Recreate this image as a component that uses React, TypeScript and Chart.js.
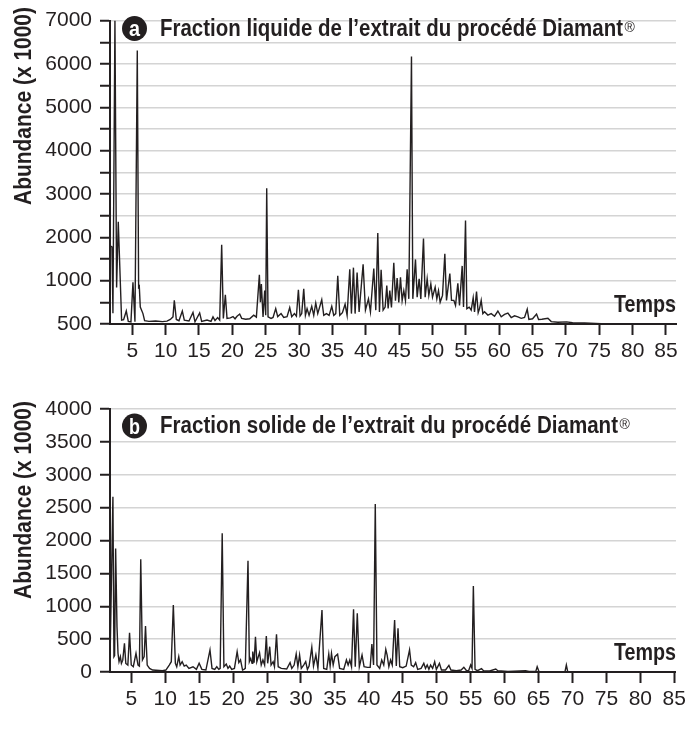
import React, { useEffect, useRef } from "react";
import { Chart, registerables } from "chart.js";

Chart.register(...registerables);

// ---------- Data: chart a (Fraction liquide) ----------
const timeA = [
  1.7, 1.95, 2.1, 2.4, 2.65, 2.9, 3.4, 3.7, 4.1, 4.4, 4.8, 5.1, 5.4, 5.75, 5.95, 6.05, 6.2, 6.6, 6.85,
  7.5, 8.5, 9.5, 10.2, 10.7, 11.1, 11.3, 11.6, 12.0, 12.5, 12.8, 13.5, 14.1, 14.4, 15.1, 15.4, 16.2,
  16.8, 17.1, 17.4, 17.8, 18.1, 18.4, 18.65, 18.95, 19.2, 19.7, 20.1, 20.4, 20.7, 21.1, 21.4, 22.0,
  22.6, 23.2, 23.6, 24.05, 24.2, 24.35, 24.6, 24.85, 25.0, 25.15, 25.35, 25.8, 26.1, 26.5, 26.8, 27.3,
  27.7, 28.2, 28.6, 28.9, 29.3, 29.6, 29.9, 30.15, 30.4, 30.7, 30.95, 31.2, 31.5, 31.9, 32.2, 32.5,
  32.8, 33.4, 33.7, 34.1, 34.5, 34.9, 35.2, 35.5, 35.8, 36.1, 36.5, 36.9, 37.2, 37.6, 37.85, 38.15,
  38.4, 38.7, 39.0, 39.6, 39.95, 40.4, 40.7, 41.2, 41.5, 41.8, 42.05, 42.3, 42.6, 42.9, 43.15, 43.35,
  43.6, 43.85, 44.2, 44.45, 44.7, 44.95, 45.2, 45.45, 45.7, 45.95, 46.2, 46.45, 46.85, 47.05, 47.45,
  47.7, 48.0, 48.25, 48.65, 48.9, 49.2, 49.45, 49.75, 50.0, 50.4, 50.65, 50.9, 51.15, 51.5, 51.85,
  52.1, 52.6, 52.85, 53.2, 53.45, 53.8, 54.05, 54.45, 54.65, 54.95, 55.15, 55.5, 55.8, 56.1, 56.3,
  56.6, 56.85, 57.05, 57.3, 57.55, 57.8, 58.3, 58.8, 59.3, 59.8, 60.3, 60.8, 61.3, 61.8, 62.3, 62.8,
  63.3, 63.8, 64.2, 64.45, 65.0, 65.6, 65.9, 66.4, 67.3, 67.8, 68.8, 70.1, 71.0, 72.8, 75.3, 77.8, 86.5,
];
const abundA = [
  1800, 1780, 250, 7000, 840, 2360, 90, 100, 300, 60, 50, 960, 50, 6310, 850, 870, 390, 240, 75,
  60, 70, 55, 65, 105, 165, 545, 105, 75, 300, 90, 70, 265, 50, 255, 60, 90,
  60, 165, 80, 150, 90, 1830, 130, 675, 130, 140, 170, 120, 180, 230, 130, 110,
  120, 205, 160, 1135, 500, 920, 165, 770, 200, 3130, 165, 130, 150, 355, 170, 240,
  150, 170, 380, 170, 240, 180, 790, 185, 240, 810, 200, 355, 200, 410, 200, 485,
  240, 560, 200, 240, 200, 410, 200, 240, 1110, 200, 260, 455, 200, 1265, 240, 1300,
  240, 1190, 280, 1380, 320, 580, 280, 1280, 320, 2100, 280, 1250, 320, 390, 885, 360,
  770, 380, 1415, 540, 1060, 500, 1075, 540, 770, 540, 1265, 580, 6170, 580, 1490,
  620, 1040, 580, 1970, 620, 1040, 660, 925, 620, 850, 580, 770, 500, 660, 1620,
  545, 1165, 545, 545, 430, 940, 430, 1340, 390, 2385, 355, 390, 320, 605, 280,
  750, 260, 355, 545, 240, 280, 205, 240, 180, 300, 165, 220, 250, 150, 190, 165,
  130, 150, 340, 105, 120, 230, 105, 110, 130, 55, 40, 50, 30, 25, 8, 0, 0,
];

// ---------- Data: chart b (Fraction solide) ----------
const timeB = [
  1.9, 2.3, 2.45, 2.55, 2.7, 2.9, 3.05, 3.2, 3.4, 3.55, 3.75, 4.0, 4.2, 4.5, 4.75, 5.0, 5.3, 5.7, 6.0,
  6.2, 6.4, 6.65, 6.9, 7.1, 7.35, 7.7, 8.15, 9.6, 10.1, 10.6, 10.9, 11.2, 11.5, 11.7, 12.0, 12.2, 12.5,
  12.8, 13.1, 13.5, 14.1, 14.6, 15.0, 15.4, 16.0, 16.6, 16.9, 17.3, 17.6, 17.9, 18.1, 18.4, 18.65,
  19.0, 19.25, 19.5, 19.8, 20.2, 20.6, 20.85, 21.1, 21.4, 21.6, 21.8, 22.2, 22.4, 22.6, 22.8, 22.9,
  23.1, 23.3, 23.5, 23.9, 24.15, 24.4, 24.65, 24.9, 25.1, 25.4, 25.6, 25.9, 26.1, 26.4, 26.65, 27.1,
  27.9, 28.4, 28.65, 29.0, 29.3, 29.55, 29.8, 30.05, 30.4, 30.7, 30.95, 31.2, 31.6, 31.85, 32.2, 32.5,
  33.1, 33.35, 33.8, 34.1, 34.3, 34.5, 34.75, 35.0, 35.4, 35.7, 36.3, 36.7, 36.95, 37.2, 37.45, 37.75,
  38.0, 38.3, 38.6, 39.0, 39.3, 39.8, 40.2, 40.45, 40.7, 40.95, 41.2, 41.6, 41.9, 42.2, 42.5, 42.7,
  42.95, 43.2, 43.45, 43.8, 44.05, 44.3, 44.55, 45.0, 45.5, 46.0, 46.25, 46.6, 46.9, 47.2, 47.7, 48.1,
  48.35, 48.6, 48.85, 49.1, 49.4, 49.7, 49.95, 50.4, 50.7, 51.3, 51.8, 52.1, 52.9, 53.6, 54.0, 54.4,
  54.7, 55.0, 55.2, 55.4, 55.65, 56.0, 56.6, 56.9, 57.8, 58.7, 59.0, 60.5, 63.1, 63.6, 64.6, 64.8,
  65.05, 67.0, 68.9, 69.1, 69.3, 72.0, 85.25,
];
const abundB = [
  330, 2665, 233, 250, 1880, 690, 285, 157, 233, 130, 180, 436, 130, 106, 598, 106, 80, 284, 106,
  90, 1714, 183, 233, 700, 106, 55, 30, 20, 30, 106, 157, 1020, 130, 80, 233, 106, 157,
  90, 106, 55, 80, 40, 132, 40, 30, 335, 55, 40, 80, 40, 55, 2110, 80,
  122, 55, 90, 40, 55, 310, 142, 183, 30, 40, 55, 1693, 157, 208, 132, 310,
  142, 537, 157, 294, 106, 183, 106, 547, 132, 385, 106, 157, 80, 573, 80, 55,
  45, 142, 55, 106, 274, 80, 259, 55, 106, 157, 40, 90, 375, 90, 259, 55,
  943, 55, 40, 274, 90, 284, 106, 233, 270, 55, 40, 183, 106, 183, 80, 953,
  80, 892, 80, 259, 80, 70, 70, 426, 106, 2555, 106, 55, 183, 106, 345, 258,
  80, 183, 106, 790, 90, 664, 80, 65, 90, 335, 106, 80, 142, 40, 55, 132,
  55, 106, 40, 106, 55, 157, 40, 132, 30, 30, 101, 30, 20, 30, 71, 20,
  20, 106, 55, 1308, 40, 20, 50, 20, 15, 45, 20, 10, 20, 10, 10, 81,
  10, 5, 5, 106, 5, 0, 0,
];

// ---------- Ticks ----------
const xTicks = [5, 10, 15, 20, 25, 30, 35, 40, 45, 50, 55, 60, 65, 70, 75, 80, 85];
const xTickLabels = ["5", "10", "15", "20", "25", "30", "35", "40", "45", "50", "55", "60", "65", "70", "75", "80", "85"];
const yTicksA = [0, 500, 1000, 1500, 2000, 2500, 3000, 3500, 4000, 4500, 5000, 5500, 6000, 6500, 7000];
const yTickLabelsA = ["500", "", "1000", "", "2000", "", "3000", "", "4000", "", "5000", "", "6000", "", "7000"];
const yTicksB = [0, 500, 1000, 1500, 2000, 2500, 3000, 3500, 4000];
const yTickLabelsB = ["0", "500", "1000", "1500", "2000", "2500", "3000", "3500", "4000"];

const titleA = "Fraction liquide de l’extrait du procédé Diamant";
const titleB = "Fraction solide de l’extrait du procédé Diamant";
const yTitle = "Abundance (x 1000)";
const xTitle = "Temps";

const FONT = '"Liberation Sans", Arial, sans-serif';
const INK = "#231f20";

type PanelSpec = {
  height: number;
  times: number[];
  values: number[];
  xMin: number;
  xMax: number;
  yTicks: number[];
  yLabels: string[];
  padTop: number;
  padRight: number;
  xAxisHeight: number;
  letter: string;
  title: string;
  titleWidth: number;
  badgeY: number;
  titleBase: number;
  yTitleY: number;
  tempsBase: number;
};

// draw condensed bold text fitted to a given width
function fitText(ctx: CanvasRenderingContext2D, text: string, x: number, y: number, width: number, align: "left" | "right" | "center") {
  const w = ctx.measureText(text).width;
  const s = width / w;
  ctx.save();
  ctx.translate(x, y);
  ctx.scale(s, 1);
  ctx.textAlign = align;
  ctx.fillText(text, 0, 0);
  ctx.restore();
}

function overlayPlugin(p: PanelSpec) {
  return {
    id: "overlay" + p.letter,
    afterDraw(chart: any) {
      const ctx = chart.ctx as CanvasRenderingContext2D;
      ctx.save();
      // badge
      ctx.fillStyle = INK;
      ctx.beginPath();
      ctx.arc(134.5, p.badgeY, 12.5, 0, Math.PI * 2);
      ctx.fill();
      ctx.fillStyle = "#ffffff";
      ctx.font = `bold 22px ${FONT}`;
      ctx.textBaseline = "alphabetic";
      fitText(ctx, p.letter, 134.5, p.badgeY + 7.5, 11, "center");
      // title
      ctx.fillStyle = INK;
      ctx.font = `bold 23px ${FONT}`;
      fitText(ctx, p.title, 160, p.titleBase, p.titleWidth, "left");
      ctx.font = `14px ${FONT}`;
      ctx.textAlign = "left";
      ctx.fillText("®", 160 + p.titleWidth + 1.5, p.titleBase - 4);
      // Temps
      ctx.font = `bold 23px ${FONT}`;
      fitText(ctx, xTitle, 676, p.tempsBase, 62, "right");
      // y title
      ctx.save();
      ctx.translate(25, p.yTitleY);
      ctx.rotate(-Math.PI / 2);
      ctx.textBaseline = "middle";
      fitText(ctx, yTitle, 0, 0, 198, "center");
      ctx.restore();
      ctx.restore();
    },
  };
}

function Panel({ spec }: { spec: PanelSpec }) {
  const ref = useRef<HTMLCanvasElement | null>(null);
  useEffect(() => {
    if (!ref.current) return;
    const data = spec.times.map((t, i) => ({ x: t, y: spec.values[i] }));
    const chart = new Chart(ref.current, {
      type: "line",
      data: {
        datasets: [
          {
            data,
            borderColor: INK,
            borderWidth: 1.4,
            pointRadius: 0,
            tension: 0,
            fill: false,
          },
        ],
      },
      options: {
        animation: false,
        responsive: false,
        events: [],
        layout: { padding: { top: spec.padTop, right: spec.padRight, left: 0, bottom: 0 } },
        plugins: { legend: { display: false }, tooltip: { enabled: false }, title: { display: false } },
        scales: {
          x: {
            type: "linear",
            min: spec.xMin,
            max: spec.xMax,
            afterBuildTicks: (scale: any) => {
              scale.ticks = xTicks.map((v) => ({ value: v }));
            },
            afterFit: (scale: any) => {
              scale.height = spec.xAxisHeight;
            },
            grid: {
              drawOnChartArea: false,
              drawTicks: true,
              tickLength: 11,
              tickWidth: 2,
              tickColor: INK,
            },
            border: { display: true, color: INK, width: 2 },
            ticks: {
              autoSkip: false,
              maxRotation: 0,
              padding: 4,
              color: INK,
              font: { family: FONT, size: 21 },
              callback: (_v: any, i: number) => xTickLabels[i],
            },
          },
          y: {
            type: "linear",
            min: spec.yTicks[0],
            max: spec.yTicks[spec.yTicks.length - 1],
            afterBuildTicks: (scale: any) => {
              scale.ticks = spec.yTicks.map((v) => ({ value: v }));
            },
            afterFit: (scale: any) => {
              scale.width = 110;
            },
            grid: {
              color: "#d4d4d4",
              lineWidth: 1.5,
              drawTicks: true,
              tickLength: 10,
              tickWidth: 2,
              tickColor: INK,
            },
            border: { display: true, color: INK, width: 2 },
            ticks: {
              autoSkip: false,
              padding: 8,
              color: INK,
              font: { family: FONT, size: 21 },
              callback: (_v: any, i: number) => spec.yLabels[i],
            },
          },
        },
      },
      plugins: [overlayPlugin(spec)],
    } as any);
    return () => chart.destroy();
  }, [spec]);
  return <canvas ref={ref} width={690} height={spec.height} style={{ display: "block", width: 690, height: spec.height }} />;
}

const specA: PanelSpec = {
  height: 365,
  times: timeA,
  values: abundA,
  xMin: 1.66,
  xMax: 86.5,
  yTicks: yTicksA,
  yLabels: yTickLabelsA,
  padTop: 16,
  padRight: 14,
  xAxisHeight: 41,
  letter: "a",
  title: titleA,
  titleWidth: 463,
  badgeY: 28.5,
  titleBase: 36,
  yTitleY: 106,
  tempsBase: 312,
};

const specB: PanelSpec = {
  height: 364,
  times: timeB,
  values: abundB,
  xMin: 1.87,
  xMax: 85.25,
  yTicks: yTicksB,
  yLabels: yTickLabelsB,
  padTop: 44,
  padRight: 14,
  xAxisHeight: 57,
  letter: "b",
  title: titleB,
  titleWidth: 458,
  badgeY: 61,
  titleBase: 68,
  yTitleY: 135,
  tempsBase: 295,
};

export default function App() {
  return (
    <div style={{ position: "absolute", left: 0, top: 0, width: 690, height: 729, background: "#fff" }}>
      <Panel spec={specA} />
      <Panel spec={specB} />
    </div>
  );
}
